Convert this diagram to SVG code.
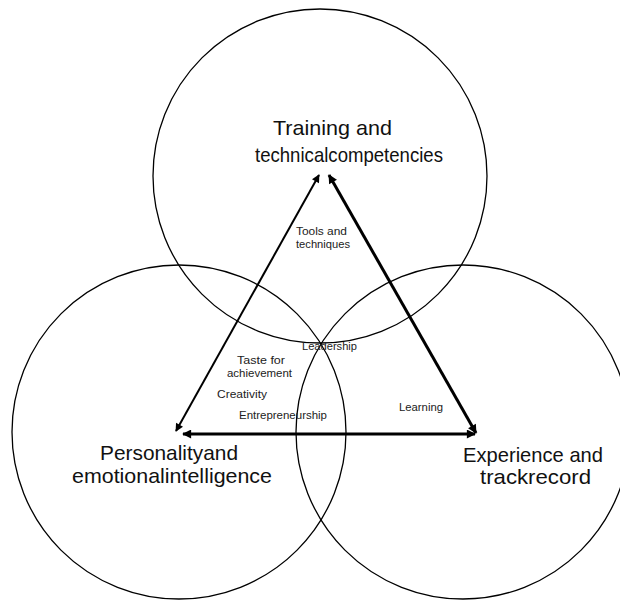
<svg xmlns="http://www.w3.org/2000/svg" width="620" height="600" viewBox="0 0 620 600">
  <style>
    .ring { fill: none; stroke: #000; stroke-width: 1.3; }
    .big { font-family: "Liberation Sans", Arial, sans-serif; font-size: 21px; fill: #111; }
    .small { font-family: "Liberation Sans", Arial, sans-serif; font-size: 11.5px; fill: #222; }
    .edge { stroke: #000; fill: none; }
  </style>
  <defs>
    <marker id="head" viewBox="0 0 10 10" refX="9" refY="5" markerWidth="10" markerHeight="9" markerUnits="userSpaceOnUse" orient="auto-start-reverse">
      <path d="M0,0 L10,5 L0,10 z" fill="#000"/>
    </marker>
    <marker id="headThin" viewBox="0 0 10 10" refX="9" refY="5" markerWidth="9" markerHeight="8" markerUnits="userSpaceOnUse" orient="auto-start-reverse">
      <path d="M0,0 L10,5 L0,10 z" fill="#000"/>
    </marker>
  </defs>

  <g id="circle-training">
    <circle class="ring" cx="320" cy="176" r="167"/>
  </g>
  <g id="circle-personality">
    <circle class="ring" cx="179" cy="432" r="167"/>
  </g>
  <g id="circle-experience">
    <circle class="ring" cx="463" cy="432" r="167"/>
  </g>

  <g id="connectors">
    <line class="edge" x1="176" y1="431" x2="319" y2="175" stroke-width="2" marker-start="url(#headThin)" marker-end="url(#headThin)"/>
    <line class="edge" x1="476" y1="433" x2="329" y2="175" stroke-width="3" marker-start="url(#head)" marker-end="url(#head)"/>
    <line class="edge" x1="183" y1="434" x2="475" y2="434" stroke-width="3" marker-start="url(#head)" marker-end="url(#head)"/>
  </g>

  <g id="node-training">
    <text class="big" x="273" y="135" textLength="119" lengthAdjust="spacingAndGlyphs">Training and</text>
    <text class="big" x="255" y="162" textLength="188" lengthAdjust="spacingAndGlyphs">technicalcompetencies</text>
  </g>
  <g id="node-personality">
    <text class="big" x="100" y="460" textLength="138" lengthAdjust="spacingAndGlyphs">Personalityand</text>
    <text class="big" x="72" y="483" textLength="200" lengthAdjust="spacingAndGlyphs">emotionalintelligence</text>
  </g>
  <g id="node-experience">
    <text class="big" x="463" y="462" textLength="140" lengthAdjust="spacingAndGlyphs">Experience and</text>
    <text class="big" x="480" y="484" textLength="111" lengthAdjust="spacingAndGlyphs">trackrecord</text>
  </g>

  <g id="labels">
    <text class="small" x="296" y="235" textLength="51" lengthAdjust="spacingAndGlyphs">Tools and</text>
    <text class="small" x="296" y="248" textLength="54" lengthAdjust="spacingAndGlyphs">techniques</text>
    <text class="small" x="302" y="350" textLength="55" lengthAdjust="spacingAndGlyphs">Leadership</text>
    <text class="small" x="237" y="364" textLength="48" lengthAdjust="spacingAndGlyphs">Taste for</text>
    <text class="small" x="227" y="377" textLength="65" lengthAdjust="spacingAndGlyphs">achievement</text>
    <text class="small" x="217" y="398" textLength="50" lengthAdjust="spacingAndGlyphs">Creativity</text>
    <text class="small" x="239" y="419" textLength="88" lengthAdjust="spacingAndGlyphs">Entrepreneurship</text>
    <text class="small" x="399" y="411" textLength="44" lengthAdjust="spacingAndGlyphs">Learning</text>
  </g>
</svg>
